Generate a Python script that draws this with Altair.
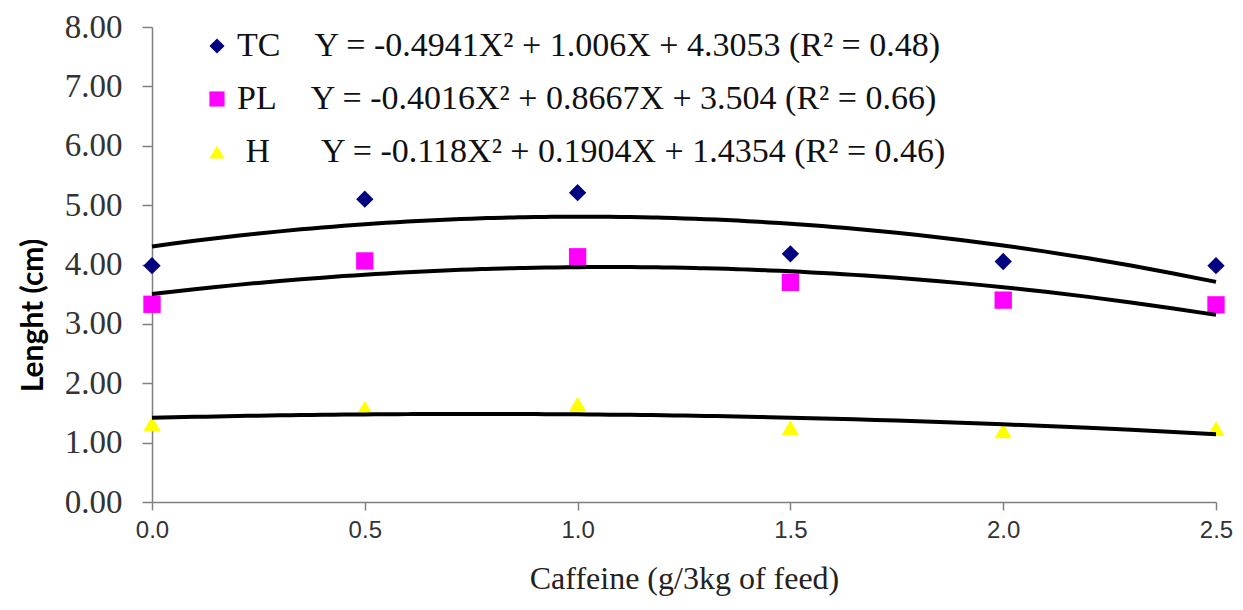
import altair as alt
import pandas as pd

# ---- data ----
caffeine = [0.0, 0.5, 1.0, 1.5, 2.0, 2.5]
tc_vals = [3.98, 5.10, 5.21, 4.18, 4.05, 3.98]
pl_vals = [3.33, 4.06, 4.13, 3.70, 3.40, 3.32]
h_vals = [1.32, 1.58, 1.65, 1.25, 1.20, 1.24]

series_names = ["TC", "PL", "H"]
series_colors = ["#000080", "#FF00FF", "#FFFF00"]
series_shapes = ["diamond", "square", "triangle-up"]
NB = "\u00a0"
ZW = "\u200b"
equations = {
    "TC": "TC" + NB * 4 + "Y = -0.4941X\u00b2 + 1.006X + 4.3053 (R\u00b2 = 0.48)",
    "PL": "PL" + NB * 4 + "Y = -0.4016X\u00b2 + 0.8667X + 3.504 (R\u00b2 = 0.66)",
    "H": ZW + NB + "H" + NB * 6 + "Y = -0.118X\u00b2 + 0.1904X + 1.4354 (R\u00b2 = 0.46)",
}
y_ticks = [0, 1, 2, 3, 4, 5, 6, 7, 8]
x_ticks = [0.0, 0.5, 1.0, 1.5, 2.0, 2.5]

rows = []
for name, vals in zip(series_names, [tc_vals, pl_vals, h_vals]):
    for xv, yv in zip(caffeine, vals):
        rows.append({"x": xv, "y": yv, "series": name})
df = pd.DataFrame(rows)

label_expr = (
    "datum.label == 'TC' ? '" + equations["TC"] + "' : "
    "datum.label == 'PL' ? '" + equations["PL"] + "' : '" + equations["H"] + "'"
)

x_enc = alt.X(
    "x:Q",
    scale=alt.Scale(domain=[0, 2.5], nice=False, zero=False),
    axis=alt.Axis(
        values=x_ticks, format=".1f", title="Caffeine (g/3kg of feed)",
        labelFont="Liberation Sans Narrow, Liberation Sans", labelFontSize=24,
        labelColor="#333333", labelPadding=8, tickSize=8, labelFlush=False,
        titleFont="Liberation Serif", titleFontSize=32, titleFontWeight="normal",
        titleColor="#222222", titlePadding=21,
    ),
)
y_enc = alt.Y(
    "y:Q",
    scale=alt.Scale(domain=[0, 8], nice=False),
    axis=alt.Axis(
        values=y_ticks, format=".2f", title="Lenght (cm)",
        labelFont="Liberation Serif", labelFontSize=33, labelColor="#333333",
        labelPadding=20, tickSize=10, labelFlush=False,
        titleFont="Lato", titleFontSize=30, titleFontWeight="bold",
        titleColor="#000000", titlePadding=16, titleY=288,
    ),
)

legend_opts = dict(
    title=None, orient="none", legendX=48, legendY=2,
    labelExpr=label_expr, labelFont="Liberation Serif",
    labelFontSize=34, labelColor="#111111", symbolSize=230,
    rowPadding=19, labelOffset=3, labelLimit=1000,
)

points = alt.Chart(df).mark_point(filled=True, opacity=1, size=300).encode(
    x=x_enc,
    y=y_enc,
    color=alt.Color(
        "series:N",
        scale=alt.Scale(domain=series_names, range=series_colors),
        legend=alt.Legend(**legend_opts),
    ),
    shape=alt.Shape(
        "series:N",
        scale=alt.Scale(domain=series_names, range=series_shapes),
        legend=alt.Legend(**legend_opts),
    ),
)

fits = alt.Chart(df).transform_regression(
    "x", "y", method="poly", order=2, groupby=["series"]
).mark_line(color="black", strokeWidth=4).encode(
    x=x_enc, y=y_enc, detail="series:N"
)

chart = (
    alt.layer(points, fits)
    .properties(
        width=1064, height=475,
        autosize=alt.AutoSizeParams(type="none"),
        padding={"left": 144, "top": 19, "right": 18, "bottom": 100},
    )
    .configure_view(stroke=None)
    .configure_axis(
        grid=False, domainColor="#808080", domainWidth=1.5,
        tickColor="#808080", tickWidth=1.5,
    )
)

chart.save("out.html", embed_options={"renderer": "svg", "actions": False})
